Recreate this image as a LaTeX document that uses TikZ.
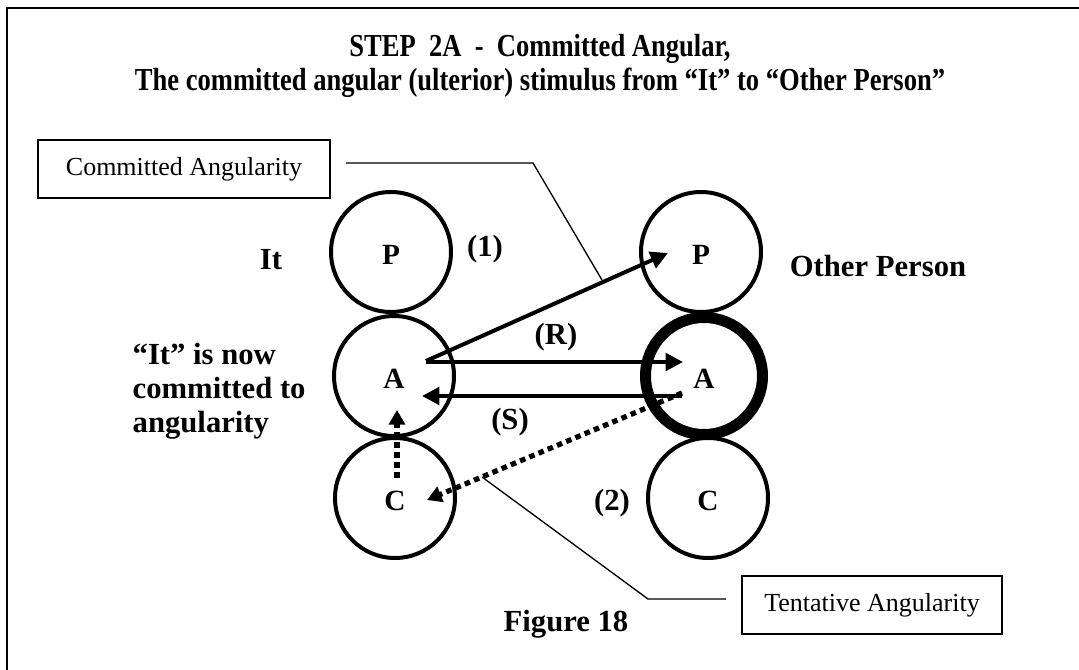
\documentclass[tikz,border=0pt]{standalone}
\usepackage{fontspec}
\setmainfont{Liberation Serif}
\newfontfamily\narrowserif[FakeStretch=0.83]{Liberation Serif}
\usetikzlibrary{arrows.meta,calc}

\tikzset{
  ring/.style={draw,circle,line width=3pt,minimum size=90pt,inner sep=0pt,
    font=\fontsize{22}{22}\selectfont\bfseries,text height=19pt,text depth=0pt},
  tag/.style={font=\fontsize{23}{25.5}\selectfont\bfseries},
  callout/.style={draw,line width=1.3pt,minimum height=43.5pt,inner sep=0pt,
    font=\fontsize{19.5}{20}\selectfont},
  fat/.style={line width=3pt,-{Triangle[length=13pt,width=13pt]}},
  dots/.style={line width=3.9pt,dash pattern=on 4.2pt off 3.3pt,
    -{Triangle[length=11pt,width=12pt]}},
  leader/.style={line width=1pt}
}

\begin{document}
\begin{tikzpicture}[x=0.75pt,y=-0.75pt]
\useasboundingbox (0,0) rectangle (1079,670);
\draw[line width=1.8pt] (1079,8) -- (7,8) -- (7,670);

\node[font=\narrowserif\fontsize{24}{25}\selectfont\bfseries,align=center] (title) at (540,66)
  {STEP\ \ 2A\ \ -\ \ Committed Angular,\\The committed angular (ulterior) stimulus from “It” to “Other Person”};

% the two persons
\node[ring] (pL) at (391,252) {P};
\node[ring] (aL) at (394,376) {A};
\node[ring] (cL) at (395,498) {C};
\node[ring] (pR) at (701,252) {P};
\node[ring,line width=8.25pt,minimum size=87.75pt] (aR) at (704,376) {A};
\node[ring] (cR) at (708,498) {C};

\node[tag] (it) at (271,260) {It};
\node[tag] (other) at (878,266) {Other Person};
\node[tag,align=left,anchor=west] (state) at (128,391)
  {“It” is now\\committed to\\angularity};
\node[tag] (one) at (485,249) {(1)};
\node[tag] (two) at (612,503) {(2)};
\node[tag] (r) at (556,337) {(R)};
\node[tag] (s) at (510,422) {(S)};
\node[tag] (fig) at (566,624) {Figure 18};

\node[callout,minimum width=219pt] (commit) at (184,169) {Committed Angularity};
\node[callout,minimum width=195pt] (tent) at (872,605) {Tentative Angularity};

% transactions
\draw[fat] ($(aL.center)+(32,-15)$) -- ($(pR.center)+(-33,1)$);
\draw[fat] ($(aL.center)+(32,-14)$) -- ($(aR.center)+(-21,-14)$);
\draw[fat] ($(aR.center)+(-22,20)$) -- ($(aL.center)+(28,20)$);
\draw[dots] ($(aR.center)+(-22,17)$) -- ($(cL.center)+(32,2)$);
\draw[dots] ($(cL.center)+(2,-20)$) -- ($(aL.center)+(3,34)$);

% pointers
\coordinate (footC) at (602,280);
\coordinate (footT) at (482,477);
\draw[leader] ($(commit.east)+(15,-6)$) -- (533,163) -- (footC);
\draw[leader] ($(tent.west)+(-15,-6)$) -- (648,599) -- (footT);
\end{tikzpicture}
\end{document}
